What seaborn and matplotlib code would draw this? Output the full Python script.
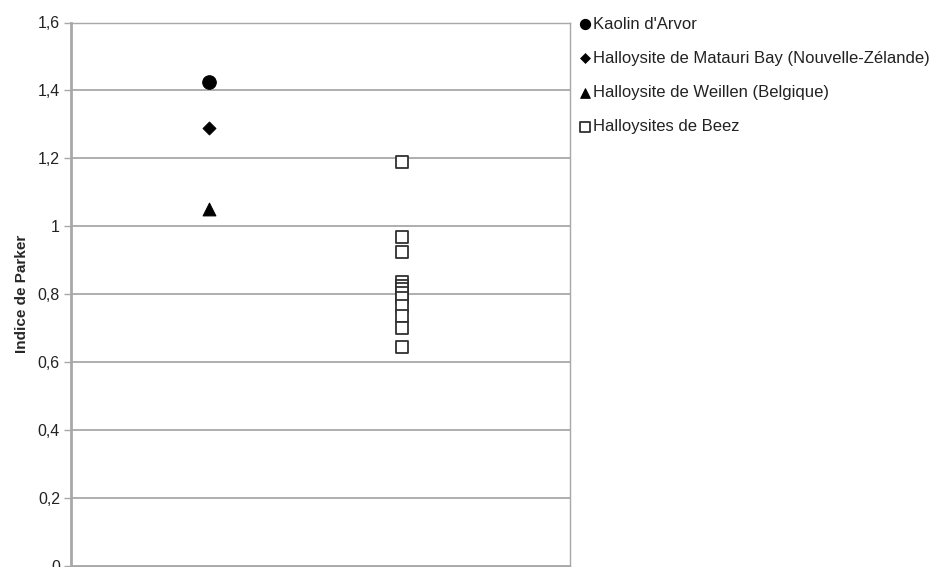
import numpy as np
import pandas as pd
import matplotlib
matplotlib.use('Agg')
import matplotlib.pyplot as plt
import seaborn as sns
from matplotlib.ticker import FuncFormatter

# valeurs
series = ["Kaolin d'Arvor",
          "Halloysite de Matauri Bay (Nouvelle-Zélande)",
          "Halloysite de Weillen (Belgique)",
          "Halloysites de Beez"]
kaolin = [1.425]
matauri = [1.29]
weillen = [1.05]
beez = [1.19, 0.97, 0.925, 0.835, 0.825, 0.815, 0.805, 0.79, 0.765, 0.735, 0.70, 0.645]
x_pos = [1, 1, 1, 2]
yticks = [0, 0.2, 0.4, 0.6, 0.8, 1.0, 1.2, 1.4, 1.6]

sns.set_style('white')
plt.rcParams['font.family'] = ['Liberation Sans', 'DejaVu Sans']

fig = plt.figure(figsize=(9.37, 5.67), dpi=100)
ax = fig.add_axes([71 / 937, 1 / 567, (570 - 71) / 937, (566 - 22.5) / 567])

df = pd.concat([
    pd.DataFrame({'x': x_pos[0], 'y': kaolin, 'serie': series[0]}),
    pd.DataFrame({'x': x_pos[1], 'y': matauri, 'serie': series[1]}),
    pd.DataFrame({'x': x_pos[2], 'y': weillen, 'serie': series[2]}),
    pd.DataFrame({'x': x_pos[3], 'y': beez, 'serie': series[3]}),
])

styles = {
    series[0]: dict(marker='o', s=95, color='black', edgecolor='black'),
    series[1]: dict(marker='D', s=45, color='black', edgecolor='black'),
    series[2]: dict(marker='^', s=85, color='black', edgecolor='black'),
    series[3]: dict(marker='s', s=80, facecolor='white', edgecolor='#303030', linewidth=1.3),
}
for name in series:
    sns.scatterplot(data=df[df['serie'] == name], x='x', y='y', ax=ax,
                    label=name, zorder=3, **styles[name])

ax.set_xlim(0.283, 2.873)
ax.set_ylim(0, 1.6)
ax.set_yticks(yticks)
ax.yaxis.set_major_formatter(FuncFormatter(lambda v, p: ('%g' % v).replace('.', ',')))
ax.set_xticks([])
ax.set_xlabel('')
ax.set_ylabel('Indice de Parker', fontsize=11, fontweight='bold', labelpad=6)
ax.grid(axis='y', color='#a8a8a8', linewidth=1.3)
for sp in ax.spines.values():
    sp.set_color('#a8a8a8')
    sp.set_linewidth(1.0)
ax.spines['left'].set_linewidth(2.0)
ax.tick_params(axis='y', length=5, width=1.0, color='#a8a8a8', labelsize=11.5,
               labelcolor='#222222', pad=3, left=True)

ax.legend_.remove()
h, l = ax.get_legend_handles_labels()
leg = fig.legend(h, l, loc='upper left', bbox_to_anchor=(570 / 937, 1 - 10 / 567),
                 frameon=False, fontsize=12, handletextpad=0.0, handlelength=1.0,
                 labelspacing=1.15, markerscale=0.75, borderaxespad=0)
for t in leg.get_texts():
    t.set_color('#222222')

fig.savefig('out.png', dpi=100)
